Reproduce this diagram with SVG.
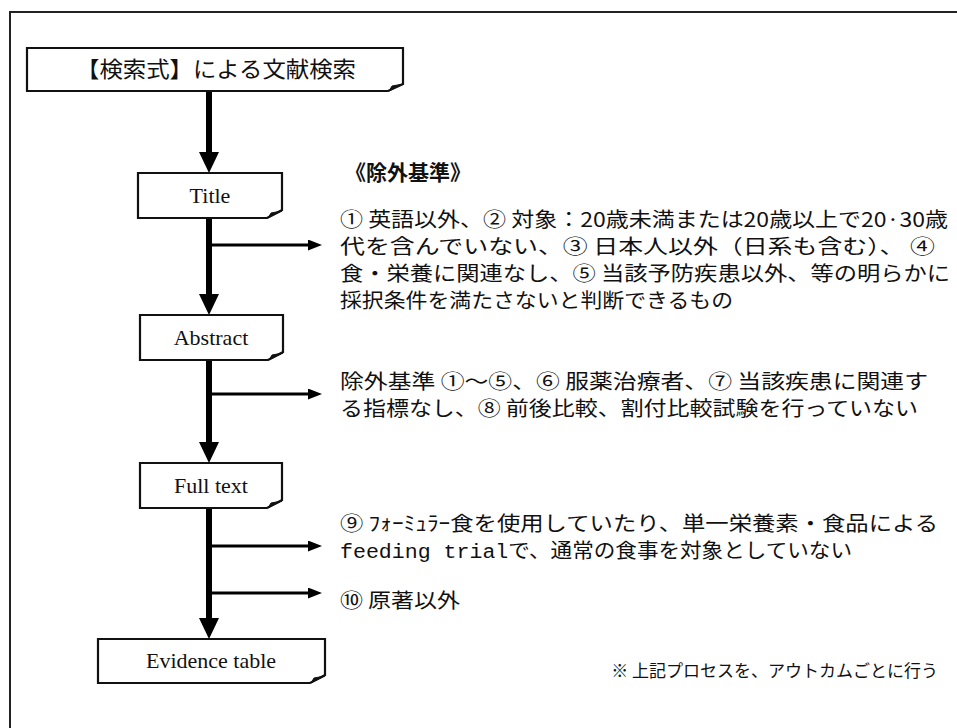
<svg xmlns="http://www.w3.org/2000/svg" width="957" height="728" viewBox="0 0 957 728">
<style>
.bg{fill:#ffffff}
.frame{fill:none;stroke:#222;stroke-width:2}
.box{fill:#fff;stroke:#111;stroke-width:2.2;stroke-linejoin:miter}
.fold{fill:#111;stroke:#111;stroke-width:1}
.lbl{font-family:"Liberation Serif","Times New Roman",serif;font-size:22px;fill:#111;text-anchor:middle}
.jp{font-family:"Noto Sans CJK JP","Noto Sans",sans-serif;font-size:20px;fill:#111}
.jpbox{font-family:"Noto Sans CJK JP","Noto Sans",sans-serif;font-size:22px;fill:#111}
.hd{font-family:"Noto Sans CJK JP","Noto Sans",sans-serif;font-size:21px;font-weight:bold;fill:#111}
.note{font-family:"Noto Sans CJK JP","Noto Sans",sans-serif;font-size:17px;fill:#111;text-anchor:end}
.mono{font-family:"Liberation Mono","DejaVu Sans Mono",monospace}
.main{stroke:#000;stroke-width:6;fill:none}
.br{stroke:#000;stroke-width:3;fill:none}
</style>
<defs>
<marker id="mh" markerUnits="userSpaceOnUse" markerWidth="22" markerHeight="21" refX="0" refY="10" orient="auto">
<path d="M0,0 L21,10 L0,20 Z" fill="#000"/>
</marker>
<marker id="bh" markerUnits="userSpaceOnUse" markerWidth="15" markerHeight="12" refX="0" refY="5.5" orient="auto">
<path d="M0,0 L14,5.5 L0,11 Z" fill="#000"/>
</marker>
</defs>
<rect class="bg" x="0" y="0" width="957" height="728"/>
<path class="frame" d="M10,728 V12 H957"/>

<g id="connectors">
<line class="main" x1="209" y1="91" x2="209" y2="152" marker-end="url(#mh)"/>
<line class="main" x1="209" y1="218" x2="209" y2="294" marker-end="url(#mh)"/>
<line class="main" x1="209" y1="360" x2="209" y2="442" marker-end="url(#mh)"/>
<line class="main" x1="209" y1="508" x2="209" y2="618" marker-end="url(#mh)"/>
<line class="br" x1="209" y1="245" x2="308" y2="245" marker-end="url(#bh)"/>
<line class="br" x1="209" y1="394" x2="308" y2="394" marker-end="url(#bh)"/>
<line class="br" x1="209" y1="546" x2="308" y2="546" marker-end="url(#bh)"/>
<line class="br" x1="209" y1="593" x2="308" y2="593" marker-end="url(#bh)"/>
</g>

<g id="node-search">
<path class="box" d="M27,48 H403 V84 L388,91 H27 Z"/>
<polygon class="fold" points="389,91 403,84 392,86"/>
<text class="jpbox" x="76" y="77" textLength="280" lengthAdjust="spacingAndGlyphs">【検索式】による文献検索</text>
</g>

<g id="node-title">
<path class="box" d="M138,173 H282 V210 L267,218 H138 Z"/>
<polygon class="fold" points="268,218 282,211 271,213"/>
<text class="lbl" x="210" y="203">Title</text>
</g>

<g id="node-abstract">
<path class="box" d="M140,315 H283 V352 L268,360 H140 Z"/>
<polygon class="fold" points="269,360 283,353 272,355"/>
<text class="lbl" x="211" y="345">Abstract</text>
</g>

<g id="node-fulltext">
<path class="box" d="M140,463 H282 V500 L267,508 H140 Z"/>
<polygon class="fold" points="268,508 282,501 271,503"/>
<text class="lbl" x="211" y="493">Full text</text>
</g>

<g id="node-evidence">
<path class="box" d="M98,639 H325 V675 L310,683 H98 Z"/>
<polygon class="fold" points="311,683 325,676 314,678"/>
<text class="lbl" x="211" y="668">Evidence table</text>
</g>

<g id="criteria-head">
<text class="hd" x="345" y="180">《除外基準》</text>
</g>

<g id="criteria-title">
<text class="jp" x="340" y="227" textLength="608" lengthAdjust="spacingAndGlyphs">① 英語以外、② 対象：20歳未満または20歳以上で20·30歳</text>
<text class="jp" x="340" y="254" textLength="595" lengthAdjust="spacingAndGlyphs">代を含んでいない、③ 日本人以外（日系も含む）、 ④</text>
<text class="jp" x="340" y="281" textLength="610" lengthAdjust="spacingAndGlyphs">食・栄養に関連なし、⑤ 当該予防疾患以外、等の明らかに</text>
<text class="jp" x="340" y="308" textLength="393" lengthAdjust="spacingAndGlyphs">採択条件を満たさないと判断できるもの</text>
</g>

<g id="criteria-abstract">
<text class="jp" x="340" y="389" textLength="588" lengthAdjust="spacingAndGlyphs">除外基準 ①～⑤、⑥ 服薬治療者、⑦ 当該疾患に関連す</text>
<text class="jp" x="340" y="416" textLength="578" lengthAdjust="spacingAndGlyphs">る指標なし、⑧ 前後比較、割付比較試験を行っていない</text>
</g>

<g id="criteria-fulltext">
<text class="jp" x="340" y="531" textLength="598" lengthAdjust="spacingAndGlyphs">⑨ ﾌｫｰﾐｭﾗｰ食を使用していたり、単一栄養素・食品による</text>
<text class="jp" x="340" y="558" textLength="512" lengthAdjust="spacingAndGlyphs"><tspan class="mono">feeding trial</tspan>で、通常の食事を対象としていない</text>
<text class="jp" x="340" y="608" textLength="120" lengthAdjust="spacingAndGlyphs">⑩ 原著以外</text>
</g>

<g id="note">
<text class="note" x="938" y="677">※ 上記プロセスを、アウトカムごとに行う</text>
</g>
</svg>
